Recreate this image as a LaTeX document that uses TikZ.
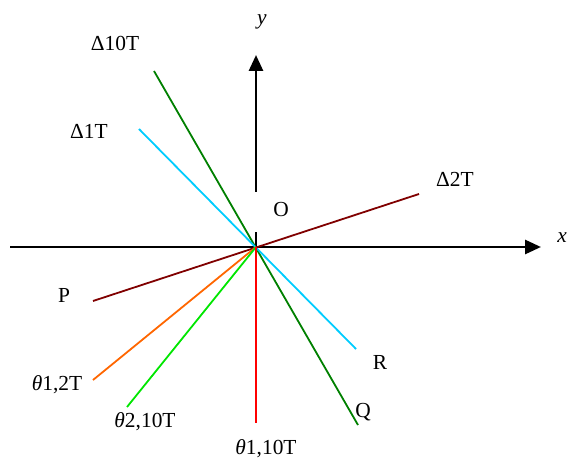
\documentclass[tikz,border=0pt]{standalone}
\usepackage{fontspec}
\setmainfont{Liberation Serif}
\usetikzlibrary{arrows.meta}

\definecolor{dgreen}{RGB}{0,128,0}
\definecolor{skyline}{RGB}{0,204,255}
\definecolor{dred}{RGB}{128,0,0}
\definecolor{lorange}{RGB}{255,102,0}
\definecolor{lgreen}{RGB}{0,230,0}
\definecolor{lred}{RGB}{255,0,0}

\begin{document}
\begin{tikzpicture}[
  x=1bp, y=-1bp,
  font=\fontsize{21.5}{24}\selectfont,
  axis/.style={line width=2.8bp, -{Triangle[length=16bp,width=14bp]}},
  ray/.style={line width=1.8bp},
  lbl/.style={inner sep=0pt}
]
\useasboundingbox (0,0) rectangle (567,461);
\coordinate (O) at (256,247);
% axes
\coordinate (xs) at (10,247);
\coordinate (xe) at (541,247);
\coordinate (yg1) at (256,232);
\coordinate (yg2) at (256,192);
\coordinate (ye) at (256,55);
\draw[axis] (xs) -- (xe);
\draw[line width=2.8bp] (O) -- (yg1);
\draw[axis] (yg2) -- (ye);
\node[lbl] (xl) at (562,238) {\textit{x}};
\node[lbl] (yl) at (262,22) {\textit{y}};
\node[lbl] (ol) at (281,210) {O};
% line ends
\coordinate (d10a) at (154,71);
\coordinate (d10b) at (358,425);
\coordinate (d1a) at (139,129);
\coordinate (d1b) at (356,349);
\coordinate (d2a) at (419,194);
\coordinate (d2b) at (93,301);
\coordinate (t12) at (93,380);
\coordinate (t210) at (127,407);
\coordinate (t110) at (256,423);
\draw[ray, dgreen] (d10a) -- (d10b);
\draw[ray, skyline] (d1a) -- (d1b);
\draw[ray, dred] (d2a) -- (d2b);
\draw[ray, lorange] (O) -- (t12);
\draw[ray, lgreen] (O) -- (t210);
\draw[ray, lred] (O) -- (t110);
% labels
\node[lbl] (l10) at (115,43) {Δ10T};
\node[lbl] (l1) at (89,131) {Δ1T};
\node[lbl] (l2) at (455,179) {Δ2T};
\node[lbl] (lp) at (64,295) {P};
\node[lbl] (lr) at (380,362) {R};
\node[lbl] (lq) at (363,412) {Q};
\node[lbl] (l12) at (57,385) {\textit{θ}1,2T};
\node[lbl] (l210) at (145,422) {\textit{θ}2,10T};
\node[lbl] (l110) at (266,449) {\textit{θ}1,10T};
\end{tikzpicture}
\end{document}
